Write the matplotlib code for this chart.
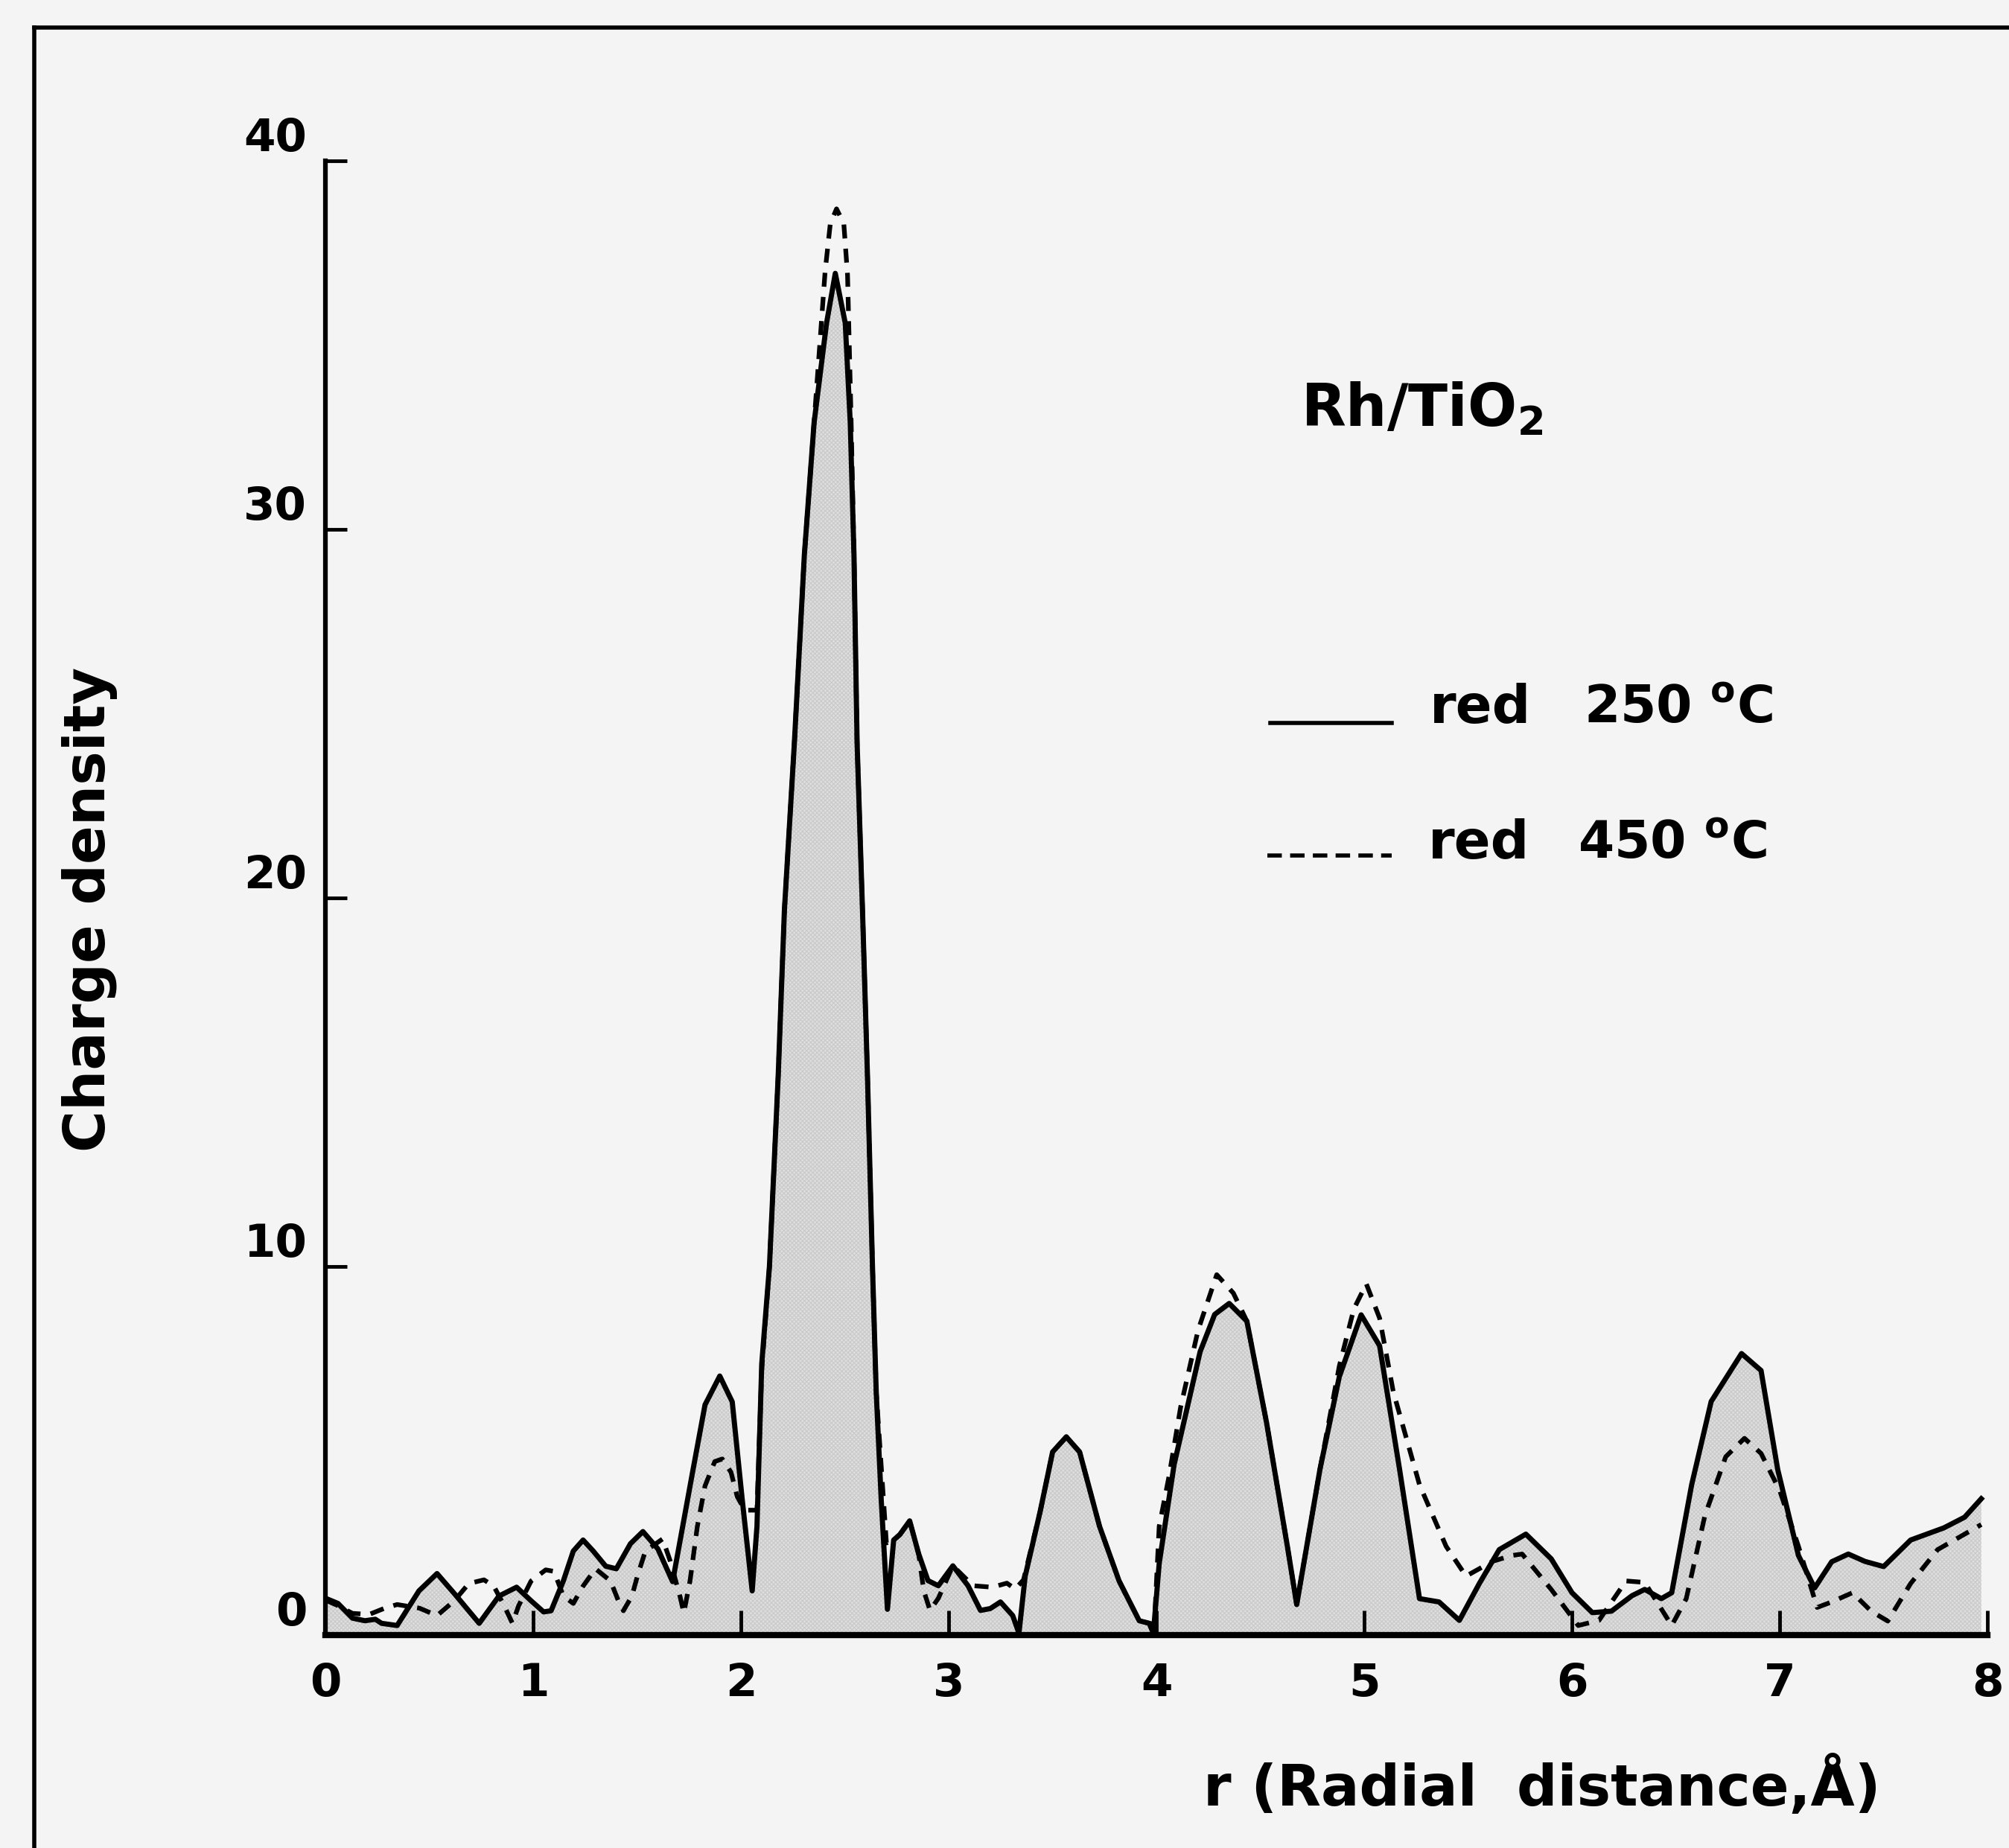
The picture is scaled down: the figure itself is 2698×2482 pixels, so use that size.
import matplotlib
matplotlib.use("Agg")
import matplotlib.pyplot as plt
from matplotlib.lines import Line2D

# red 250 C  (solid line, shaded)
r_250 = [0.00, 0.06, 0.13, 0.19, 0.24, 0.27, 0.345, 0.45, 0.537, 0.62, 0.74, 0.835,
         0.92, 0.99, 1.05, 1.086, 1.145, 1.193, 1.24, 1.289, 1.349, 1.40, 1.468, 1.528,
         1.60, 1.671, 1.767, 1.827, 1.898, 1.958, 2.006, 2.054, 2.077, 2.10, 2.137, 2.179,
         2.209, 2.257, 2.305, 2.352, 2.412, 2.454, 2.502, 2.526, 2.544, 2.559, 2.585, 2.609,
         2.633, 2.651, 2.675, 2.705, 2.735, 2.765,
         2.812, 2.855, 2.90, 2.95, 3.02, 3.093, 3.153, 3.20, 3.249, 3.308, 3.338, 3.368,
         3.44, 3.50, 3.566, 3.63, 3.726, 3.82, 3.917, 3.965, 3.985, 4.013, 4.085, 4.21,
         4.28, 4.35, 4.435, 4.53, 4.63, 4.675, 4.787, 4.88, 4.985, 5.074, 5.17, 5.266,
         5.36, 5.458, 5.554, 5.65, 5.778, 5.90, 6.00, 6.098, 6.19, 6.289, 6.35, 6.43,
         6.48, 6.576, 6.67, 6.816, 6.91, 6.99, 7.09, 7.168, 7.25, 7.33, 7.41, 7.50,
         7.63, 7.79, 7.89, 7.97]
g_250 = [1.00, 0.86, 0.46, 0.39, 0.43, 0.32, 0.26, 1.20, 1.67, 1.13, 0.32, 1.06,
         1.30, 0.93, 0.63, 0.66, 1.47, 2.28, 2.58, 2.28, 1.87, 1.80, 2.48, 2.81,
         2.34, 1.45, 4.42, 6.25, 7.03, 6.33, 3.68, 1.20, 2.95, 7.36, 10.0, 15.15,
         19.66, 24.2, 29.3, 32.9, 35.6, 36.95, 35.6, 32.9, 29.3, 24.2, 19.66, 15.15,
         10.0, 6.6, 3.68, 0.70, 2.58, 2.73,
         3.10, 2.21, 1.48, 1.34, 1.88, 1.34, 0.67, 0.72, 0.90, 0.53, 0.05, 1.60,
         3.35, 4.97, 5.38, 4.97, 2.95, 1.47, 0.39, 0.32, 0.05, 1.94, 4.63, 7.69,
         8.70, 9.00, 8.52, 5.76, 2.41, 0.83, 4.50, 7.01, 8.69, 7.85, 4.50, 0.99,
         0.90, 0.40, 1.40, 2.32, 2.74, 2.07, 1.15, 0.61, 0.65, 1.07, 1.24, 0.99,
         1.15, 4.08, 6.34, 7.64, 7.18, 4.50, 2.16, 1.28, 1.99, 2.20, 2.00, 1.86,
         2.58, 2.91, 3.20, 3.70]

# red 450 C  (dashed line)
r_450 = [0.00, 0.06, 0.13, 0.21, 0.285, 0.345, 0.453, 0.537, 0.62, 0.69, 0.763, 0.81,
         0.86, 0.90, 0.93, 0.99, 1.06, 1.10, 1.145, 1.193, 1.24, 1.30, 1.372, 1.41,
         1.434, 1.475, 1.505, 1.54, 1.623, 1.66, 1.707, 1.725, 1.755, 1.79, 1.827, 1.874,
         1.91, 1.952, 1.982, 2.018, 2.077, 2.10, 2.137, 2.179, 2.209, 2.257, 2.305, 2.352,
         2.405, 2.43, 2.46, 2.495, 2.513, 2.53, 2.544, 2.559, 2.585, 2.609, 2.633,
         2.651, 2.70, 2.735, 2.765, 2.812, 2.855, 2.88, 2.91, 2.95,
         3.02, 3.117, 3.21, 3.28, 3.32, 3.36, 3.44, 3.50, 3.566, 3.63, 3.726, 3.82,
         3.917, 3.965, 3.99, 4.013, 4.06, 4.116, 4.20, 4.29, 4.37, 4.435, 4.53, 4.63,
         4.675, 4.787, 4.88, 4.95, 5.01, 5.074, 5.14, 5.266, 5.394, 5.49, 5.617, 5.71,
         5.76, 5.90, 6.03, 6.13, 6.26, 6.35, 6.48, 6.55, 6.64, 6.74, 6.83, 6.91,
         7.00, 7.09, 7.18, 7.25, 7.35, 7.44, 7.52, 7.63, 7.76, 7.89, 7.97]
g_450 = [0.95, 0.80, 0.59, 0.56, 0.73, 0.83, 0.73, 0.53, 0.93, 1.40, 1.50, 1.33,
         0.80, 0.32, 0.80, 1.47, 1.77, 1.73, 1.06, 0.86, 1.33, 1.80, 1.47, 0.93,
         0.66, 1.06, 1.67, 2.28, 2.61, 2.00, 1.04, 0.60, 1.48, 2.95, 4.05, 4.71,
         4.78, 4.42, 3.76, 3.39, 3.39, 7.20, 10.0, 15.15, 19.66, 24.2, 29.3, 32.9,
         37.0, 38.3, 38.7, 38.3, 36.9, 33.0, 29.3, 24.2, 19.66, 15.15, 10.0,
         6.6, 2.50, 2.58, 2.73, 3.10, 2.21, 1.20, 0.67, 1.00,
         1.88, 1.34, 1.30, 1.41, 1.25, 1.50, 3.35, 4.97, 5.38, 4.97, 2.95, 1.47,
         0.39, 0.32, 0.30, 2.95, 4.30, 6.18, 8.27, 9.78, 9.28, 8.52, 5.76, 2.41,
         0.83, 4.50, 7.30, 8.85, 9.53, 8.60, 6.60, 4.08, 2.41, 1.60, 2.00, 2.16,
         2.20, 1.24, 0.26, 0.40, 1.47, 1.43, 0.26, 0.99, 3.25, 4.84, 5.34, 4.93,
         3.92, 2.41, 0.75, 0.90, 1.15, 0.65, 0.38, 1.40, 2.32, 2.74, 3.00]

x_ticks = [0, 1, 2, 3, 4, 5, 6, 7, 8]
y_ticks = [0, 10, 20, 30, 40]

plt.rcParams['font.family'] = 'DejaVu Sans'
plt.rcParams['font.weight'] = 'bold'
plt.rcParams['mathtext.fontset'] = 'dejavusans'
plt.rcParams['hatch.linewidth'] = 0.8

fig = plt.figure(figsize=(26.98, 24.82), dpi=100, facecolor='#f4f4f4')
ax = fig.add_axes([0.162, 0.1152, 0.8273, 0.7977])
ax.set_facecolor('none')

# area under the 250 C curve
ax.fill_between(r_250, 0, g_250, facecolor='#dedede', hatch='xxxxxx',
                edgecolor='#c9c9c9', linewidth=0)
ax.plot(r_450, g_450, color='k', lw=4.5, dashes=(3.0, 2.2))
ax.plot(r_250, g_250, color='k', lw=5, solid_joinstyle='round')

ax.set_xlim(0, 8)
ax.set_ylim(0, 40)
ax.spines['top'].set_visible(False)
ax.spines['right'].set_visible(False)
ax.spines['left'].set_linewidth(4.5)
ax.spines['bottom'].set_linewidth(6)
ax.set_xticks(x_ticks)
ax.set_yticks(y_ticks)
ax.tick_params(axis='x', direction='in', length=24, width=3.5, pad=26, labelsize=44)
ax.tick_params(axis='y', direction='in', length=21, width=3.5, pad=18, labelsize=44)
for lab in ax.get_yticklabels():
    lab.set_va('bottom')

fig.text(0.0445, 0.5077, 'Charge density', rotation=90, ha='center', va='center',
         fontsize=55)
fig.text(0.936, 0.033, 'r (Radial  distance,Å)', ha='right', va='center', fontsize=55)

# title + hand made legend
fig.text(0.6475, 0.7695, 'Rh/TiO$_\\mathbf{2}$', fontsize=56, va='baseline')
fig.add_artist(Line2D([0.6323, 0.6927], [0.6088, 0.6088], color='k', lw=4))
fig.text(0.7116, 0.6088, 'red', fontsize=52, va='baseline')
fig.text(0.7884, 0.6088, '250 $^\\mathbf{o}$C', fontsize=50, va='baseline')
fig.add_artist(Line2D([0.6310, 0.6927], [0.5370, 0.5370], color='k', lw=4,
                      dashes=(3.5, 2.0)))
fig.text(0.7109, 0.5355, 'red', fontsize=52, va='baseline')
fig.text(0.7854, 0.5355, '450 $^\\mathbf{o}$C', fontsize=50, va='baseline')

# frame of the scanned page
fig.add_artist(Line2D([0.0172, 0.0172], [0.0, 0.985], color='k', lw=4))
fig.add_artist(Line2D([0.0172, 1.0], [0.985, 0.985], color='k', lw=4))

fig.savefig('out.png', dpi=100, facecolor=fig.get_facecolor())
